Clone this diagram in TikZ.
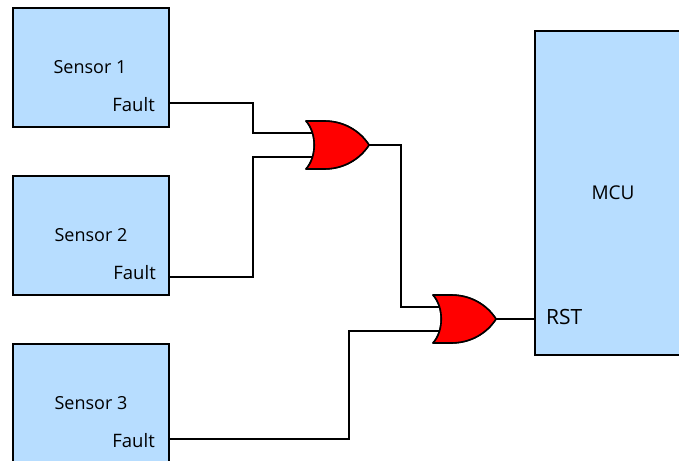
\documentclass[tikz,border=0pt]{standalone}
\usepackage{fontspec}
\setmainfont{Open Sans}
\definecolor{blockblue}{HTML}{B7DDFF}
\tikzset{
  block/.style={draw=black,fill=blockblue,line width=2.2pt,rectangle,inner sep=0pt,minimum width=156pt,minimum height=119pt,anchor=north west,outer sep=0pt},
  lab/.style={font=\fontsize{18}{20}\selectfont,inner sep=0pt,text=black},
  wire/.style={draw=black,line width=1.5pt,line join=miter},
  gatebody/.style={draw=black,fill=red,line width=1.6pt,line join=round},
}
\newcommand{\orgate}[3]{%
  \coordinate (#1) at (#2,#3);
  \coordinate (#1in1) at (#2+7.5,#3-12);
  \coordinate (#1in2) at (#2+7.5,#3+12);
  \coordinate (#1out) at (#2+63,#3);
  \path[gatebody] (#2,#3-24) -- (#2+18,#3-24)
    .. controls (#2+38,#3-24) and (#2+54,#3-14) .. (#1out)
    .. controls (#2+54,#3+14) and (#2+38,#3+24) .. (#2+18,#3+24)
    -- (#2,#3+24)
    .. controls (#2+11,#3+12) and (#2+11,#3-12) .. (#2,#3-24) -- cycle;
}
\begin{document}
\begin{tikzpicture}[x=1pt,y=-1pt]
\useasboundingbox (0,0) rectangle (679,460);
\clip (0,0) rectangle (679,460);
\node[block] (s1) at (13,8) {};
\node[block] (s2) at (13,176) {};
\node[block] (s3) at (13,344) {};
\node[block,minimum width=150pt,minimum height=324pt] (mcu) at (535,31) {};
\node[lab] (s1t) at (90,67) {Sensor 1};
\node[lab] (s2t) at (91,235) {Sensor 2};
\node[lab] (s3t) at (91,403) {Sensor 3};
\node[lab,font=\fontsize{19}{22}\selectfont] (mcut) at (613,192.5) {MCU};
\node[lab,anchor=east,font=\fontsize{18.5}{22}\selectfont] (f1) at (155,105) {Fault};
\node[lab,anchor=east,font=\fontsize{18.5}{22}\selectfont] (f2) at (156,273) {Fault};
\node[lab,anchor=east,font=\fontsize{18.5}{22}\selectfont] (f3) at (155,441) {Fault};
\node[lab,anchor=west,font=\fontsize{21}{24}\selectfont] (rst) at (546,317) {RST};
\coordinate (p1) at (s1.east |- 0,103);
\coordinate (p2) at (s2.east |- 0,277);
\coordinate (p3) at (s3.east |- 0,439);
\coordinate (prst) at (mcu.west |- 0,319);
\coordinate (b1) at (253,103);
\coordinate (b2) at (253,277);
\coordinate (b3) at (349,439);
\coordinate (b4) at (401,145);
\orgate{g}{306}{145}
\orgate{h}{433}{319}
\draw[wire] (p1) -- (b1) |- (gin1);
\draw[wire] (p2) -- (b2) |- (gin2);
\draw[wire] (gout) -- (b4) |- (hin1);
\draw[wire] (p3) -- (b3) |- (hin2);
\draw[wire] (hout) -- (prst);
\orgate{g}{306}{145}
\orgate{h}{433}{319}
\end{tikzpicture}
\end{document}
